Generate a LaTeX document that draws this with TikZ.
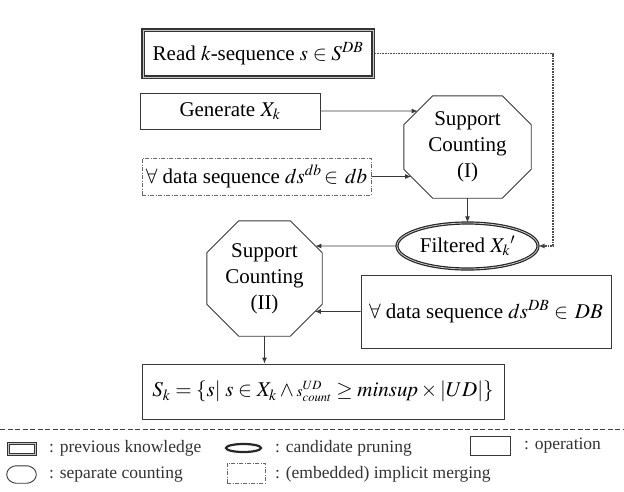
\documentclass[tikz,border=0pt]{standalone}
\usepackage{mathptmx}
\usepackage{fontspec}
\setmainfont{Liberation Serif}
\usetikzlibrary{arrows.meta,calc,shapes.geometric}

\begin{document}
\begin{tikzpicture}[x=1pt,y=-1pt,
  line/.style={draw=black!78, line width=0.9pt},
  arr/.style={line, -{Latex[length=6pt,width=5pt]}},
  main/.style={font=\fontsize{21}{26}\selectfont, align=center, inner sep=0pt},
  legtext/.style={font=\fontsize{17.5}{20}\selectfont, anchor=west, inner sep=0pt, text=black!80},
  opbox/.style={main, line, rectangle},
  prevbox/.style={main, rectangle, draw=black!80, line width=1.1pt, double=gray!45, double distance=0.9pt},
  mergebox/.style={main, rectangle, draw=black!60, line width=0.8pt, dash pattern=on 4pt off 1.5pt on 1pt off 1.5pt},
  prunebox/.style={main, ellipse, draw=black!85, line width=1.2pt, double=gray!40, double distance=0.8pt},
  dotline/.style={draw=black!70, line width=1.3pt, dash pattern=on 1pt off 0.6pt},
  legline/.style={draw=black!75, line width=0.8pt, dash pattern=on 5pt off 2.5pt}
]
\useasboundingbox (0,0) rectangle (624,491);

% ---- nodes ----
\node[prevbox, minimum width=230, minimum height=47] (read) at (258,53.5)
  {Read $k$-sequence $s \in S^{DB}$};
\node[opbox, minimum width=180, minimum height=36] (gen) at (230,111)
  {Generate $X_k$};
\node[mergebox, minimum width=229, minimum height=37] (db) at (256.5,176.5)
  {$\forall$ data sequence $ds^{db}\!\in\, db$};
\node[main, minimum width=127, minimum height=102] (o1) at (467.5,147)
  {Support\\Counting\\(I)};
\node[prunebox, minimum width=141, minimum height=46] (ell) at (467.5,246)
  {Filtered $X_{k}{}'$};
\node[main, minimum width=115, minimum height=115] (o2) at (264.5,278.5)
  {Support\\Counting\\(II)};
\node[opbox, minimum width=250, minimum height=73] (DB) at (486,311.5)
  {$\forall$ data sequence $ds^{DB}\in\, DB$};
\node[opbox, minimum width=362, minimum height=55] (sk) at (323,391.5)
  {$S_k = \{s|\; s \in X_k \wedge {\scriptstyle s^{\raisebox{1.5pt}{$\scriptscriptstyle UD$}}_{\raisebox{-1.5pt}{$\scriptscriptstyle count$}}} \geq \mathit{minsup} \times |UD|\}$};

% ---- octagon outlines ----
\coordinate (o1a) at ([xshift=29]o1.north west);
\coordinate (o1b) at ([xshift=-29]o1.north east);
\coordinate (o1c) at ([yshift=-29]o1.north east);
\coordinate (o1d) at ([yshift=29]o1.south east);
\coordinate (o1e) at ([xshift=-29]o1.south east);
\coordinate (o1f) at ([xshift=29]o1.south west);
\coordinate (o1g) at ([yshift=29]o1.south west);
\coordinate (o1h) at ([yshift=-29]o1.north west);
\draw[line] (o1a) -- (o1b) -- (o1c) -- (o1d) -- (o1e) -- (o1f) -- (o1g) -- (o1h) -- cycle;

\coordinate (o2a) at ([xshift=32]o2.north west);
\coordinate (o2b) at ([xshift=-32]o2.north east);
\coordinate (o2c) at ([yshift=-32]o2.north east);
\coordinate (o2d) at ([yshift=32]o2.south east);
\coordinate (o2e) at ([xshift=-32]o2.south east);
\coordinate (o2f) at ([xshift=32]o2.south west);
\coordinate (o2g) at ([yshift=32]o2.south west);
\coordinate (o2h) at ([yshift=-32]o2.north west);
\draw[line] (o2a) -- (o2b) -- (o2c) -- (o2d) -- (o2e) -- (o2f) -- (o2g) -- (o2h) -- cycle;

% ---- connectors ----
\draw[arr] (gen.east) -- (intersection of gen.east--gen.west and o1a--o1h);
\draw[arr] (db.east) -- (intersection of db.east--db.west and o1f--o1g);
\draw[arr] (o1.south) -- (ell.north);
\draw[arr] (ell.west) -- (intersection of ell.west--ell.east and o2b--o2c);
\draw[arr] (DB.west) -- (intersection of DB.west--DB.east and o2d--o2e);
\draw[arr] (o2.south) -- (o2.south |- sk.north);
\coordinate (dcorner) at (553,246);
\draw[dotline] (read.east) -- (read.east -| dcorner) -- (dcorner) -- ([xshift=6]ell.east);
\draw[arr, draw=black!75] ([xshift=6.5]ell.east) -- (ell.east);

% ---- legend ----
\coordinate (sepL) at (0,429);
\coordinate (sepR) at (624,429);
\draw[legline] (sepL) -- (sepR);

\node[prevbox, minimum width=27, minimum height=11] (lg1) at (22,449) {};
\node[legtext] (lt1) at (49,448) {: previous knowledge};

\node[main, minimum width=29, minimum height=17] (lg2) at (21.5,474.5) {};
\draw[line, rounded corners=3pt] ([xshift=6]lg2.north west) -- ([xshift=-6]lg2.north east)
  -- ([yshift=-5]lg2.north east) -- ([yshift=5]lg2.south east) -- ([xshift=-6]lg2.south east)
  -- ([xshift=6]lg2.south west) -- ([yshift=5]lg2.south west) -- ([yshift=-5]lg2.north west) -- cycle;
\node[legtext] (lt2) at (49,475) {: separate counting};

\node[draw=black!85, line width=2.2pt, ellipse, minimum width=35, minimum height=8, inner sep=0pt] (lg3) at (243.5,448) {};
\node[legtext] (lt3) at (275,448) {: candidate pruning};

\node[mergebox, minimum width=38, minimum height=20] (lg4) at (246,473) {};
\node[legtext] (lt4) at (275,474) {: (embedded) implicit merging};

\node[opbox, minimum width=40, minimum height=19] (lg5) at (490,445.5) {};
\node[legtext] (lt5) at (524,446) {: operation};
\end{tikzpicture}
\end{document}
